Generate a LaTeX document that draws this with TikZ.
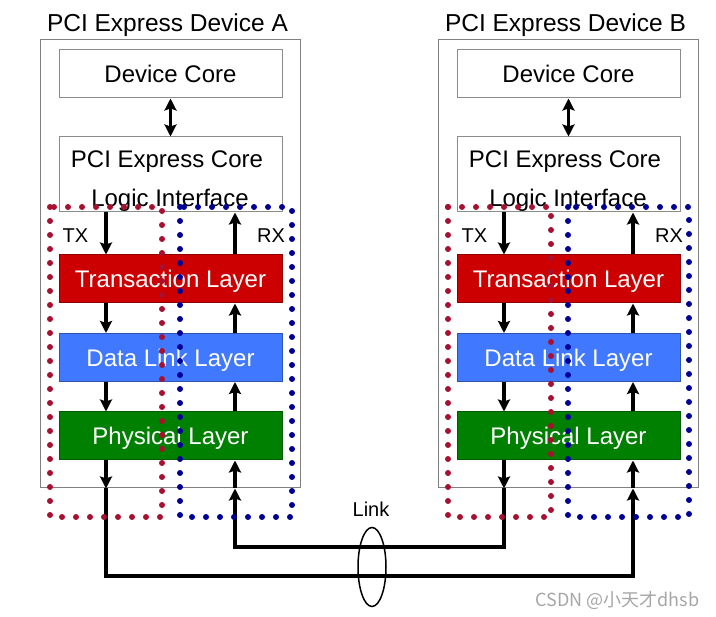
\documentclass[tikz,border=0pt]{standalone}
\usepackage{fontspec}
\setmainfont{Liberation Sans}
\newfontfamily\cjkfont{Noto Sans CJK SC}
\usetikzlibrary{arrows.meta,shapes.geometric,decorations.markings}

\definecolor{tlred}{RGB}{204,0,0}
\definecolor{dlblue}{RGB}{64,120,255}
\definecolor{phgreen}{RGB}{0,128,0}
\definecolor{dotred}{RGB}{168,16,48}
\definecolor{dotblue}{RGB}{0,0,150}

\begin{document}
\begin{tikzpicture}[x=1pt,y=-1pt,
  title/.style={anchor=base, font=\fontsize{24.5}{28}\selectfont},
  lbl/.style={anchor=base, font=\fontsize{20}{24}\selectfont},
  outer/.style={draw=gray, line width=1pt, minimum width=260pt, minimum height=448pt, inner sep=0pt},
  corebox/.style={draw=gray!90, line width=1pt, minimum width=223pt, inner sep=0pt,
    font=\fontsize{24}{28}\selectfont, text height=18pt, text depth=0pt},
  layer/.style={draw=#1!70!black, fill=#1, line width=1pt, text=white,
    minimum width=223pt, minimum height=48pt, inner sep=0pt,
    font=\fontsize{24}{28}\selectfont, text height=18pt, text depth=0pt},
  arr/.style={line width=3.2pt, -{Stealth[length=12pt,width=12pt,inset=2pt]}},
  arrboth/.style={line width=3.2pt, {Stealth[length=12pt,width=12pt,inset=2pt]}-{Stealth[length=12pt,width=12pt,inset=2pt]}},
  grpbox/.style={decoration={markings,
      mark=between positions 0 and 1 step 14pt with {\fill[#1] (0,0) circle (3pt);}},
    postaction={decorate}}
]
\useasboundingbox (0,0) rectangle (716,617);

% Device A
\node[title] (titleA) at (167.5,32) {PCI Express Device A};
\node[outer] (oA) at (170,264) {};
\node[corebox, minimum height=48pt] (dcA) at (170.5,74) {Device Core};
\node[corebox, minimum height=75pt] (liA) at (170.5,174.5) {};
\node[title, font=\fontsize{24}{28}\selectfont] (liAa) at (167,168) {PCI Express Core};
\node[title, font=\fontsize{24}{28}\selectfont] (liAb) at (170,207) {Logic Interface};
\node[layer=tlred] (tlA) at (170.5,279) {Transaction Layer};
\node[layer=dlblue] (dlA) at (170.5,357.5) {Data Link Layer};
\node[layer=phgreen] (phA) at (170.5,436) {Physical Layer};
\node[lbl] (txlA) at (75.5,243) {TX};
\node[lbl] (rxlA) at (271,243) {RX};
\coordinate (txA) at (106,0);
\coordinate (rxA) at (235,0);

% Device B
\node[title] (titleB) at (565.5,32) {PCI Express Device B};
\node[outer] (oB) at (568,264) {};
\node[corebox, minimum height=48pt] (dcB) at (568.5,74) {Device Core};
\node[corebox, minimum height=75pt] (liB) at (568.5,174.5) {};
\node[title, font=\fontsize{24}{28}\selectfont] (liBa) at (565,168) {PCI Express Core};
\node[title, font=\fontsize{24}{28}\selectfont] (liBb) at (568,207) {Logic Interface};
\node[layer=tlred] (tlB) at (568.5,279) {Transaction Layer};
\node[layer=dlblue] (dlB) at (568.5,357.5) {Data Link Layer};
\node[layer=phgreen] (phB) at (568.5,436) {Physical Layer};
\node[lbl] (txlB) at (474.5,243) {TX};
\node[lbl] (rxlB) at (669,243) {RX};
\coordinate (txB) at (504,0);
\coordinate (rxB) at (633,0);

% Core arrows
\draw[arrboth] (dcA) -- (liA);
\draw[arrboth] (dcB) -- (liB);

% TX paths down
\draw[arr] (liA.south -| txA) -- (tlA.north -| txA);
\draw[arr] (tlA.south -| txA) -- (dlA.north -| txA);
\draw[arr] (dlA.south -| txA) -- (phA.north -| txA);
\draw[arr] (phA.south -| txA) -- (oA.south -| txA);
\draw[arr] (liB.south -| txB) -- (tlB.north -| txB);
\draw[arr] (tlB.south -| txB) -- (dlB.north -| txB);
\draw[arr] (dlB.south -| txB) -- (phB.north -| txB);
\draw[arr] (phB.south -| txB) -- (oB.south -| txB);

% RX paths up
\draw[arr] (tlA.north -| rxA) -- (liA.south -| rxA);
\draw[arr] (dlA.north -| rxA) -- (tlA.south -| rxA);
\draw[arr] (phA.north -| rxA) -- (dlA.south -| rxA);
\draw[arr] (oA.south -| rxA) -- (phA.south -| rxA);
\draw[arr] (tlB.north -| rxB) -- (liB.south -| rxB);
\draw[arr] (dlB.north -| rxB) -- (tlB.south -| rxB);
\draw[arr] (phB.north -| rxB) -- (dlB.south -| rxB);
\draw[arr] (oB.south -| rxB) -- (phB.south -| rxB);

% Link wires
\coordinate (wA) at (106,576);
\coordinate (wB) at (633,576);
\coordinate (vA) at (235,547);
\coordinate (vB) at (504,547);
\draw[arr] (oA.south -| txA) -- (wA) -- (wB) -- (oB.south -| rxB);
\draw[arr] (oB.south -| txB) -- (vB) -- (vA) -- (oA.south -| rxA);
\node[draw, ellipse, line width=1.5pt, minimum width=28pt, minimum height=79pt, inner sep=0pt] (link) at (372,567) {};
\node[lbl] (linkl) at (371,517) {Link};

% Dotted TX / RX groups
\path[grpbox=dotred] (50,207) rectangle (162,517);
\path[grpbox=dotblue] (180,207) rectangle (292,517);
\path[grpbox=dotred] (448,207) rectangle (551,517);
\path[grpbox=dotblue] (568,207) rectangle (689,517);

\node[anchor=base, text=gray!70, font=\cjkfont\fontsize{18}{21}\selectfont] (mark) at (617.5,607) {CSDN @小天才dhsb};
\end{tikzpicture}
\end{document}
